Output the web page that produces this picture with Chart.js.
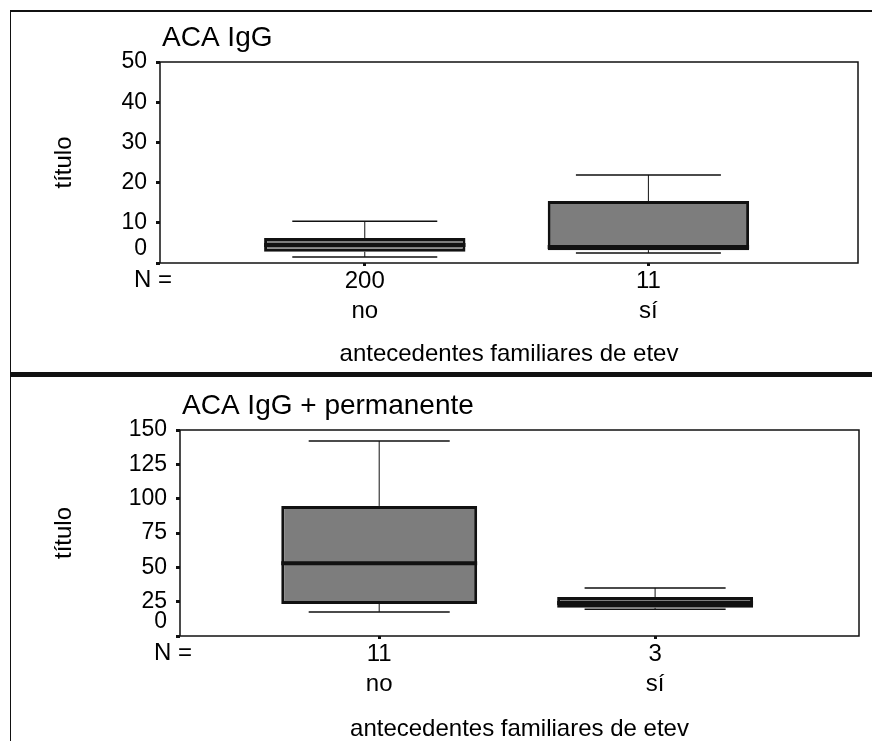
<!DOCTYPE html>
<html lang="es">
<head>
<meta charset="utf-8">
<script src="https://cdn.jsdelivr.net/npm/chart.js@4/dist/chart.umd.min.js"></script>
<style>
  html, body { margin: 0; padding: 0; background: #fff; }
  #lienzo { position: relative; width: 872px; height: 741px; overflow: hidden; }
  canvas { position: absolute; left: 0; }
  .linea { position: absolute; background: #111; z-index: 2; }
</style>
</head>
<body>
<div id="lienzo">
  <canvas id="panel-arriba" width="872" height="372" style="top:0"></canvas>
  <canvas id="panel-abajo" width="872" height="364" style="top:377px"></canvas>
  <div class="linea" style="left:10px; top:10px; width:862px; height:2px;"></div>
  <div class="linea" style="left:10px; top:10px; width:1px; height:731px;"></div>
  <div class="linea" style="left:10px; top:372px; width:862px; height:5px;"></div>
</div>
<script>
// datos
const categorias = ['no', 'sí'];
const posX = [0, 1];

// ACA IgG
const nArriba = ['200', '11'];
const minArriba = [1.5, 2.5];
const q1Arriba = [2.8, 3.2];
const medArriba = [4.5, 4.0];
const q3Arriba = [6.2, 15.4];
const maxArriba = [10.4, 21.9];

// ACA IgG + permanente
const nAbajo = ['11', '3'];
const minAbajo = [17.5, 19.5];
const q1Abajo = [23.3, 20.5];
const medAbajo = [53, 24];
const q3Abajo = [94.7, 28.4];
const maxAbajo = [142, 35];

const fuente = "'Liberation Sans', Arial, sans-serif";
const negro = '#111';

// bigotes, mediana, marco y textos sueltos
const extrasCaja = {
  id: 'extrasCaja',
  afterDatasetsDraw(chart, args, opts) {
    const { ctx, scales: { y } } = chart;
    const meta = chart.getDatasetMeta(0);
    ctx.save();
    ctx.strokeStyle = negro;
    meta.data.forEach((barra, i) => {
      const { x, width } = barra.getProps(['x', 'width'], true);
      const yQ1 = y.getPixelForValue(opts.q1[i]);
      const yQ3 = y.getPixelForValue(opts.q3[i]);
      const yMin = y.getPixelForValue(opts.min[i]);
      const yMax = y.getPixelForValue(opts.max[i]);
      const yMed = y.getPixelForValue(opts.med[i]);
      const tapa = width * 0.36;
      ctx.lineWidth = 1;
      ctx.beginPath();
      ctx.moveTo(x, yQ3); ctx.lineTo(x, yMax);
      ctx.moveTo(x, yQ1); ctx.lineTo(x, yMin);
      ctx.stroke();
      ctx.lineWidth = 1.5;
      ctx.beginPath();
      ctx.moveTo(x - tapa, yMax); ctx.lineTo(x + tapa, yMax);
      ctx.moveTo(x - tapa, yMin); ctx.lineTo(x + tapa, yMin);
      ctx.stroke();
      ctx.lineWidth = 4;
      ctx.beginPath();
      ctx.moveTo(x - width / 2, yMed); ctx.lineTo(x + width / 2, yMed);
      ctx.stroke();
    });
    ctx.restore();
  },
  afterDraw(chart, args, opts) {
    const { ctx, chartArea } = chart;
    ctx.save();
    ctx.strokeStyle = negro;
    ctx.lineWidth = 1.5;
    ctx.strokeRect(chartArea.left, chartArea.top, chartArea.right - chartArea.left, chartArea.bottom - chartArea.top);
    ctx.fillStyle = '#000';
    ctx.font = '28px ' + fuente;
    ctx.textAlign = 'left';
    ctx.textBaseline = 'alphabetic';
    ctx.fillText(opts.titulo, chartArea.left + 2, chartArea.top - 16);
    ctx.font = '24px ' + fuente;
    ctx.textAlign = 'center';
    ctx.textBaseline = 'middle';
    ctx.fillText('N =', chartArea.left - 7, chartArea.bottom + 17);
    ctx.restore();
  }
};

const crearPanel = (idCanvas, cfg) => {
  const ctx = document.getElementById(idCanvas).getContext('2d');
  return new Chart(ctx, {
    type: 'bar',
    data: {
      datasets: [{
        data: posX.map((x, i) => ({ x, y: [cfg.q1[i], cfg.q3[i]] })),
        backgroundColor: '#7d7d7d',
        borderColor: negro,
        borderWidth: 3,
        borderSkipped: false,
        barPercentage: 0.71,
        categoryPercentage: 1
      }]
    },
    options: {
      responsive: false,
      animation: false,
      layout: { padding: { top: cfg.arriba, left: 10, right: cfg.derecha, bottom: 0 } },
      plugins: {
        legend: { display: false },
        tooltip: { enabled: false },
        extrasCaja: {
          titulo: cfg.titulo, q1: cfg.q1, q3: cfg.q3, med: cfg.med, min: cfg.min, max: cfg.max
        }
      },
      scales: {
        x: {
          type: 'linear',
          offset: false,
          bounds: 'data',
          min: -0.722,
          max: 1.739,
          afterBuildTicks: (scale) => { scale.ticks = posX.map(v => ({ value: v })); },
          afterFit: (scale) => { scale.height = cfg.altoX; },
          grid: { display: true, offset: false, drawOnChartArea: false, tickLength: 3, tickWidth: 3, tickColor: negro },
          border: { display: false },
          ticks: {
            autoSkip: false,
            maxRotation: 0,
            padding: 0,
            color: '#000',
            font: { family: fuente, size: 24, lineHeight: 1.25 },
            callback: (v) => {
              const i = posX.indexOf(v);
              return i === -1 ? '' : [cfg.n[i], categorias[i]];
            }
          },
          title: {
            display: true,
            text: 'antecedentes familiares de etev',
            color: '#000',
            font: { family: fuente, size: 24, lineHeight: 1 },
            padding: { top: 0, bottom: cfg.padTituloX }
          }
        },
        y: {
          min: 0,
          max: cfg.maxY,
          afterFit: (scale) => { scale.width = cfg.anchoY; },
          grid: { display: true, drawOnChartArea: false, tickLength: 4, tickWidth: 3, tickColor: negro },
          border: { display: false },
          ticks: {
            stepSize: cfg.paso,
            autoSkip: false,
            padding: 9,
            color: '#000',
            font: { family: fuente, size: 23, lineHeight: 1.25 },
            callback: (v) => (v === 0 ? ['0', ''] : String(v))
          },
          title: {
            display: true,
            text: 'título',
            color: '#000',
            font: { family: fuente, size: 24, lineHeight: 1.2 },
            padding: { top: 40, bottom: 0 }
          }
        }
      }
    },
    plugins: [extrasCaja]
  });
};

crearPanel('panel-arriba', {
  titulo: 'ACA IgG', n: nArriba,
  q1: q1Arriba, q3: q3Arriba, med: medArriba, min: minArriba, max: maxArriba,
  maxY: 50, paso: 10,
  arriba: 62, derecha: 14, anchoY: 150, altoX: 109, padTituloX: 6
});

crearPanel('panel-abajo', {
  titulo: 'ACA IgG + permanente', n: nAbajo,
  q1: q1Abajo, q3: q3Abajo, med: medAbajo, min: minAbajo, max: maxAbajo,
  maxY: 150, paso: 25,
  arriba: 53, derecha: 13, anchoY: 170, altoX: 105, padTituloX: 0
});
</script>
</body>
</html>
